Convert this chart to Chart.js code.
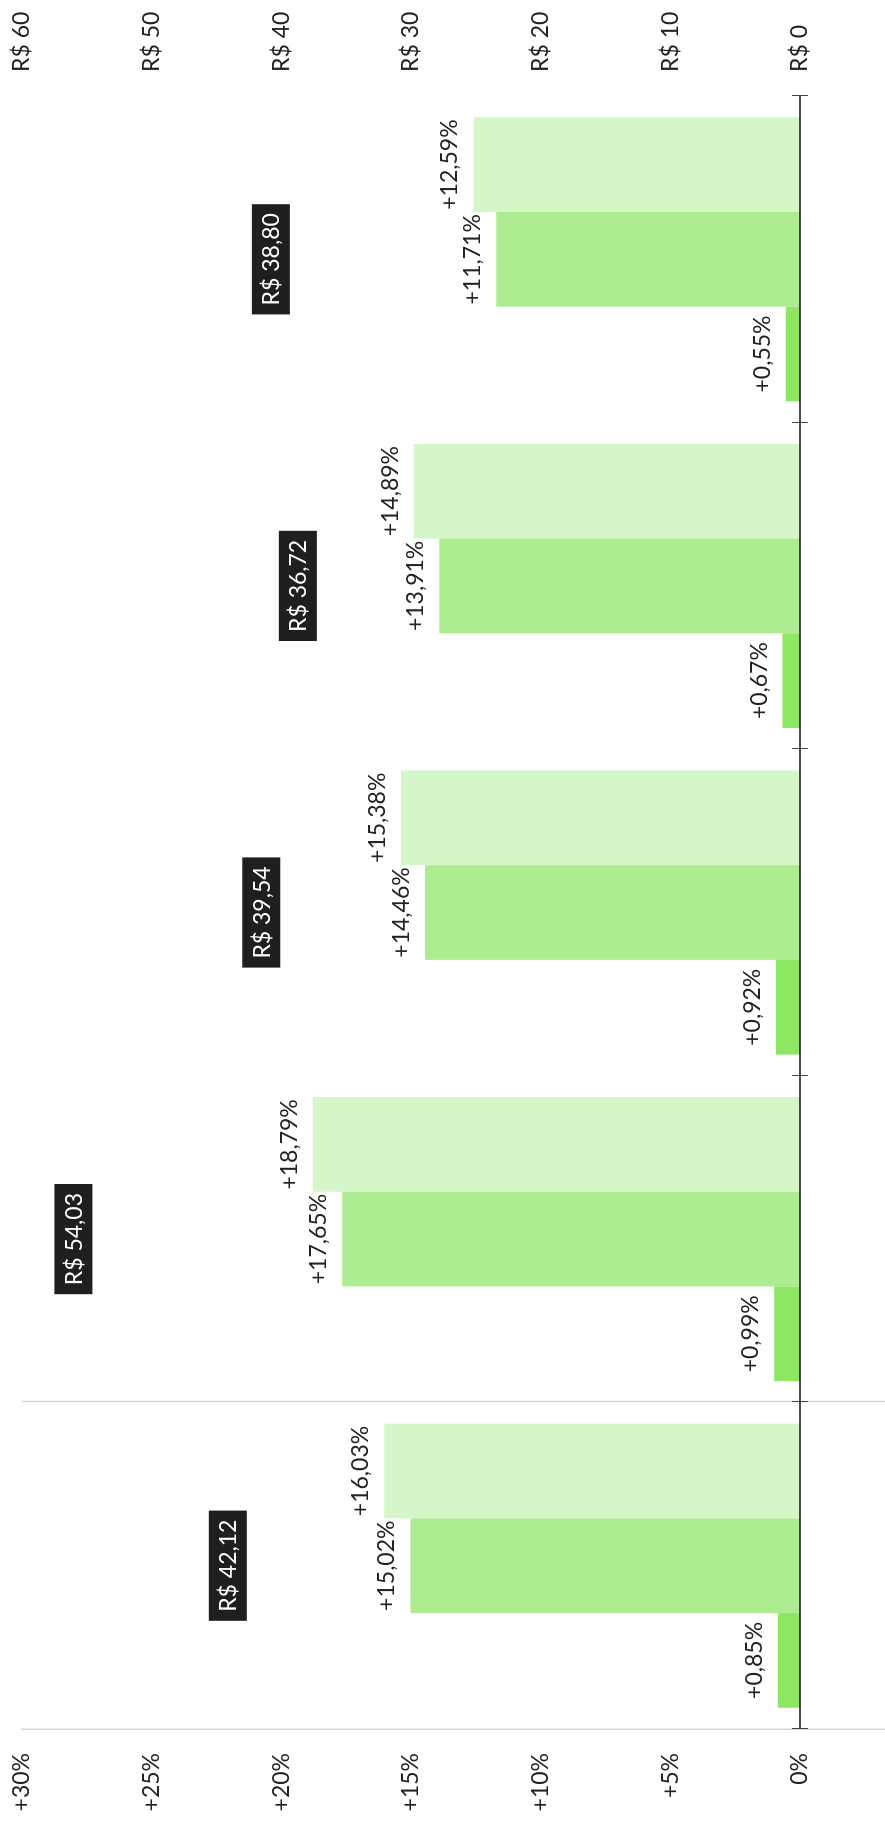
<!DOCTYPE html>
<html>
<head>
<meta charset="utf-8">
<script src="https://cdn.jsdelivr.net/npm/chart.js@4.4.0/dist/chart.umd.min.js"></script>
<style>
  html, body { margin: 0; padding: 0; background: #fff; overflow: hidden; }
  #wrap {
    position: absolute; left: 0; top: 0;
    width: 1824px; height: 885px;
    transform-origin: 0 0;
    transform: translateY(1824px) rotate(-90deg);
  }
</style>
</head>
<body>
<div id="wrap"><canvas id="myChart" width="1824" height="885"></canvas></div>
<script>
// values (left to right in the unrotated chart)
const categories = ['1', '2', '3', '4', '5'];
const shortTerm = [0.85, 0.99, 0.92, 0.67, 0.55];
const midTerm = [15.02, 17.65, 14.46, 13.91, 11.71];
const longTerm = [16.03, 18.79, 15.38, 14.89, 12.59];
const prices = [42.12, 54.03, 39.54, 36.72, 38.80];
const pctTicks = [0, 5, 10, 15, 20, 25, 30];
const priceTicks = [0, 10, 20, 30, 40, 50, 60];

const FONT = 'Lato';
const fmt = (v) => v.toFixed(2).replace('.', ',');

const overlay = {
  id: 'overlay',
  afterDatasetsDraw(chart) {
    const ctx = chart.ctx;
    const area = chart.chartArea;
    const x = chart.scales.x;
    const y = chart.scales.y;
    ctx.save();

    // divider between first group and the rest
    const div = Math.round((x.getPixelForValue(0) + x.getPixelForValue(1)) / 2) + 0.5;
    ctx.strokeStyle = '#d6d6d6';
    ctx.lineWidth = 1.5;
    ctx.beginPath();
    ctx.moveTo(div, area.top);
    ctx.lineTo(div, area.bottom);
    ctx.stroke();

    // zero line with ticks at group boundaries
    const y0 = y.getPixelForValue(0);
    ctx.strokeStyle = '#111';
    ctx.lineWidth = 1.5;
    ctx.beginPath();
    ctx.moveTo(area.left, y0);
    ctx.lineTo(area.right, y0);
    ctx.stroke();
    ctx.lineWidth = 1;
    ctx.strokeStyle = '#444';
    for (let i = 0; i <= categories.length; i++) {
      const px = Math.round(x.getPixelForValue(i - 0.5)) + 0.5;
      ctx.beginPath();
      ctx.moveTo(px, y0 - 8);
      ctx.lineTo(px, y0 + 8);
      ctx.stroke();
    }

    // bar labels
    ctx.font = '23px ' + FONT;
    ctx.fillStyle = '#222';
    ctx.textAlign = 'center';
    ctx.textBaseline = 'alphabetic';
    for (let d = 0; d < 3; d++) {
      const meta = chart.getDatasetMeta(d);
      meta.data.forEach((bar, i) => {
        const v = chart.data.datasets[d].data[i];
        ctx.fillText('+' + fmt(v) + '%', bar.x, bar.y - 16);
      });
    }

    // price boxes
    const pm = chart.getDatasetMeta(3);
    ctx.textBaseline = 'middle';
    pm.data.forEach((pt, i) => {
      const txt = 'R$ ' + fmt(prices[i]);
      const w = ctx.measureText(txt).width + 18;
      const h = 38;
      const bx = pt.x - w / 2;
      const by = pt.y - 7 - h;
      ctx.fillStyle = '#1f1f1f';
      ctx.fillRect(bx, by, w, h);
      ctx.fillStyle = '#fff';
      ctx.fillText(txt, pt.x, by + h / 2 + 1);
    });
    ctx.restore();
  }
};

const ctx = document.getElementById('myChart').getContext('2d');
new Chart(ctx, {
  type: 'bar',
  data: {
    labels: categories,
    datasets: [
      { label: 'curto', data: shortTerm, backgroundColor: '#8de763', yAxisID: 'y' },
      { label: 'medio', data: midTerm, backgroundColor: '#adec91', yAxisID: 'y' },
      { label: 'longo', data: longTerm, backgroundColor: '#d5f6c8', yAxisID: 'y' },
      { type: 'line', label: 'preco', data: prices, yAxisID: 'y2', showLine: false, pointRadius: 0, borderColor: 'transparent' }
    ]
  },
  options: {
    responsive: false,
    devicePixelRatio: 1,
    animation: false,
    layout: { padding: { top: 22, bottom: 0, left: 0, right: 0 } },
    datasets: { bar: { categoryPercentage: 0.87, barPercentage: 1.0 } },
    plugins: { legend: { display: false }, tooltip: { enabled: false } },
    scales: {
      x: { display: false },
      y: {
        position: 'left',
        min: -3.28, max: 30,
        afterBuildTicks: (s) => { s.ticks = pctTicks.map(v => ({ value: v })); },
        afterFit: (s) => { s.width = 95; s.paddingTop = 0; s.paddingBottom = 0; },
        grid: { display: false, drawTicks: false },
        border: { display: true, color: '#d6d6d6', width: 1.5 },
        ticks: {
          padding: 24,
          color: '#222',
          font: { family: FONT, size: 23 },
          callback: (v) => (v === 0 ? '0%' : '+' + v + '%')
        }
      },
      y2: {
        position: 'right',
        min: -6.56, max: 60,
        afterBuildTicks: (s) => { s.ticks = priceTicks.map(v => ({ value: v })); },
        afterFit: (s) => { s.width = 96; s.paddingTop = 0; s.paddingBottom = 0; },
        grid: { display: false, drawTicks: false },
        border: { display: false },
        ticks: {
          padding: 24,
          color: '#222',
          font: { family: FONT, size: 23 },
          callback: (v) => 'R$ ' + v
        }
      }
    }
  },
  plugins: [overlay]
});
</script>
</body>
</html>
